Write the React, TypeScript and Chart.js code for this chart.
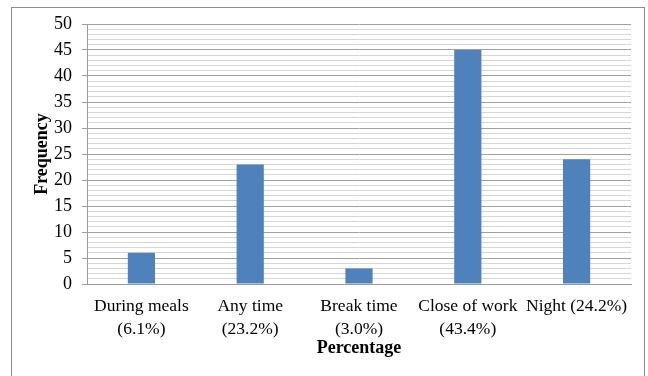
import React, { useEffect, useRef } from "react";
import { Chart, registerables } from "chart.js";

Chart.register(...registerables);

const categories: (string | string[])[] = [
  ["During meals", "(6.1%)"],
  ["Any time", "(23.2%)"],
  ["Break time", "(3.0%)"],
  ["Close of work", "(43.4%)"],
  "Night (24.2%)",
];
const frequencies = [6, 23, 3, 45, 24];
const yMin = 0;
const yMax = 50;
const yMajorStep = 5;
const yMinorStep = 1;
const xTitle = "Percentage";
const yTitle = "Frequency";

export default function App() {
  const ref = useRef<HTMLCanvasElement | null>(null);
  useEffect(() => {
    if (!ref.current) return;
    const font = "'Liberation Serif', 'Times New Roman', serif";
    const chart = new Chart(ref.current, {
      type: "bar",
      data: {
        labels: categories,
        datasets: [
          {
            data: frequencies,
            backgroundColor: "#4F81BD",
            borderColor: "#4A7EBB",
            borderWidth: 0,
            barPercentage: 0.25,
            categoryPercentage: 1,
          },
        ],
      },
      options: {
        animation: false,
        responsive: false,
        maintainAspectRatio: false,
        layout: { padding: { left: 28, top: 24, right: 17, bottom: 13 } },
        plugins: { legend: { display: false }, tooltip: { enabled: false } },
        scales: {
          x: {
            grid: { display: false },
            border: { display: true, color: "#9a9a9a", width: 1 },
            ticks: {
              color: "#000",
              font: { family: font, size: 17.5, lineHeight: 1.32 },
              padding: 3,
              maxRotation: 0,
              autoSkip: false,
            },
            title: {
              display: true,
              text: xTitle,
              color: "#000",
              font: { family: font, size: 18, weight: "bold" },
              padding: { top: 4, bottom: 4 },
            },
            afterFit: (s: any) => {
              s.height = 79;
            },
          },
          y: {
            min: yMin,
            max: yMax,
            ticks: {
              stepSize: yMinorStep,
              autoSkip: false,
              color: "#000",
              font: { family: font, size: 18 },
              padding: 10,
              callback: (v: any) => (Number(v) % yMajorStep === 0 ? String(v) : ""),
            },
            grid: {
              color: (c: any) =>
                c.tick && c.tick.value % yMajorStep === 0 ? "#a0a0a0" : "#d6d6d6",
              tickColor: (c: any) =>
                c.tick && c.tick.value % yMajorStep === 0 ? "#a0a0a0" : "rgba(0,0,0,0)",
              tickLength: 5,
              lineWidth: 1,
            },
            border: { display: true, color: "#9a9a9a", width: 1 },
            title: {
              display: true,
              text: yTitle,
              color: "#000",
              font: { family: font, size: 18, weight: "bold" },
              padding: { top: 4, bottom: 4 },
            },
            afterFit: (s: any) => {
              s.width = 87 - 28;
            },
          },
        },
      },
    });
    return () => chart.destroy();
  }, []);
  return (
    <div
      style={{
        position: "fixed",
        left: 0,
        top: 0,
        width: 648,
        height: 376,
        background: "#fff",
        overflow: "hidden",
      }}
    >
      <div
        style={{
          position: "absolute",
          left: 11,
          top: 7,
          width: 634,
          height: 400,
          border: "1px solid #8c8c8c",
          boxSizing: "border-box",
        }}
      />
      <canvas
        ref={ref}
        width={648}
        height={376}
        style={{ position: "absolute", left: 0, top: 0, width: 648, height: 376 }}
      />
    </div>
  );
}
